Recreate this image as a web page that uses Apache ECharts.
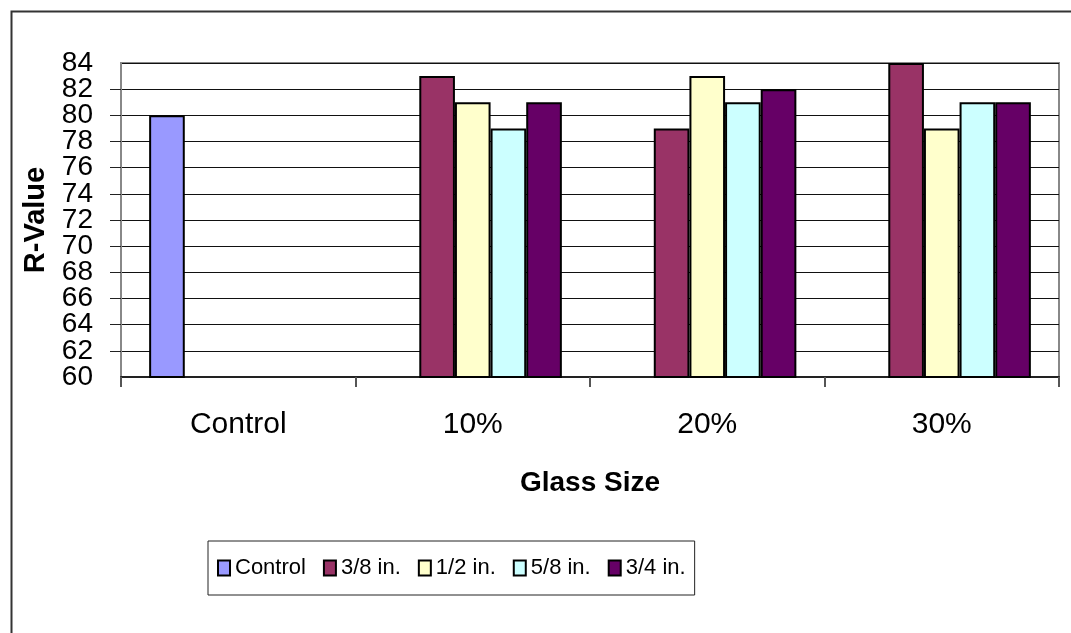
<!DOCTYPE html>
<html>
<head>
<meta charset="utf-8">
<script src="https://cdn.jsdelivr.net/npm/echarts@6/dist/echarts.min.js"></script>
<style>
  html, body { margin: 0; padding: 0; background: #fff; }
  #chart { width: 1071px; height: 633px; }
</style>
</head>
<body>
<div id="chart"></div>
<script>
'use strict';

// chart data
var categories = ['Control', '10%', '20%', '30%'];
var seriesNames = ['Control', '3/8 in.', '1/2 in.', '5/8 in.', '3/4 in.'];
var controlValues = [80, null, null, null];
var eighth3Values = [null, 83, 79, 84];
var half1Values = [null, 81, 83, 79];
var eighth5Values = [null, 79, 81, 81];
var quarter3Values = [null, 81, 82, 81];
var yTicks = [60, 84, 2]; // min, max, step

var colors = ['#9999FF', '#993366', '#FFFFCC', '#CCFFFF', '#660066'];
var allValues = [controlValues, eighth3Values, half1Values, eighth5Values, quarter3Values];

var chart = echarts.init(document.getElementById('chart'));

var series = [];
for (var i = 0; i < seriesNames.length; i++) {
    series.push({
        name: seriesNames[i],
        type: 'bar',
        yAxisIndex: 0,
        data: allValues[i],
        barGap: '0%',
        barCategoryGap: '24%',
        itemStyle: { color: colors[i], borderColor: '#000', borderWidth: 2 }
    });
}

var yLabelStyle = { fontSize: 28, color: '#000', margin: 28 };

var option = {
    backgroundColor: '#FFFFFF',
    animation: false,
    textStyle: { fontFamily: 'Liberation Sans, Arial, sans-serif' },
    // outer chart frame, runs off the right and bottom edges
    graphic: [{
        type: 'rect',
        left: 9, top: 9,
        shape: { width: 1100, height: 700 },
        style: { fill: 'none', stroke: '#333', lineWidth: 2 },
        silent: true
    }],
    grid: {
        left: 121, right: 12, top: 63, bottom: 256,
        show: true, borderColor: '#888', borderWidth: 2
    },
    legend: {
        data: seriesNames,
        left: 208, top: 541,
        padding: [16, 9, 16, 9],
        borderColor: '#222', borderWidth: 1,
        itemWidth: 12, itemHeight: 15, itemGap: 17,
        icon: 'rect',
        itemStyle: { borderColor: '#000', borderWidth: 2 },
        textStyle: { fontSize: 22, color: '#000' }
    },
    xAxis: {
        type: 'category',
        data: categories,
        name: 'Glass Size',
        nameLocation: 'middle',
        nameGap: 92,
        nameTextStyle: { fontSize: 28, fontWeight: 'bold', color: '#000', verticalAlign: 'top' },
        axisLine: { lineStyle: { color: '#222', width: 2 } },
        axisTick: { show: true, length: 10, lineStyle: { color: '#555', width: 2 } },
        axisLabel: { fontSize: 30, color: '#000', margin: 33 }
    },
    yAxis: [{
        type: 'value',
        min: yTicks[0], max: yTicks[1], interval: yTicks[2],
        name: 'R-Value',
        nameLocation: 'middle',
        nameGap: 71,
        nameTextStyle: { fontSize: 29, fontWeight: 'bold', color: '#000' },
        axisLine: { show: true, lineStyle: { color: '#888', width: 2 } },
        axisTick: { show: true, length: 11, lineStyle: { color: '#222' } },
        // inner labels; the end labels come from the overlay axis below
        axisLabel: Object.assign({ showMinLabel: false, showMaxLabel: false }, yLabelStyle),
        splitLine: { lineStyle: { color: '#111', width: 1 } }
    }, {
        // same scale, only draws the 60 and 84 labels (labels too tall to fit together on one axis)
        type: 'value',
        position: 'left',
        min: yTicks[0], max: yTicks[1], interval: yTicks[2],
        axisLine: { show: false },
        axisTick: { show: false },
        splitLine: { show: false },
        axisLabel: Object.assign({
            showMinLabel: true, showMaxLabel: true,
            formatter: function (v) { return (v === yTicks[0] || v === yTicks[1]) ? String(v) : ''; }
        }, yLabelStyle)
    }],
    series: series
};

chart.setOption(option);
</script>
</body>
</html>
